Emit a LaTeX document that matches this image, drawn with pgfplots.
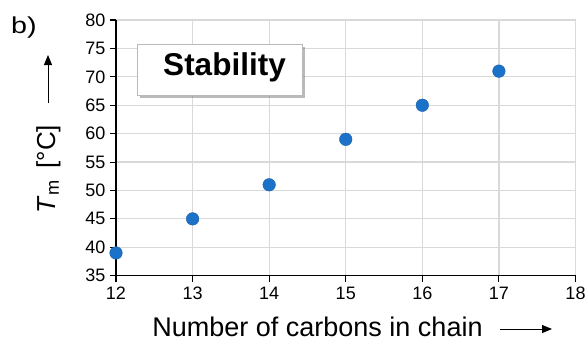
\documentclass[border=0pt]{standalone}
\usepackage{pgfplots}
\pgfplotsset{compat=1.18}
\usepackage{fontspec}
\setmainfont{Liberation Sans}
\usetikzlibrary{shadows,arrows.meta}
\definecolor{markblue}{RGB}{28,114,200}
\definecolor{gridgray}{RGB}{217,217,217}
\begin{document}
\begin{tikzpicture}[x=1bp,y=1bp]
\path[use as bounding box] (0,0) rectangle (588,343);
\begin{axis}[
  at={(116bp,67.3bp)}, anchor=south west,
  scale only axis, width=459.5bp, height=255.7bp,
  xmin=12, xmax=18, ymin=35, ymax=80,
  xtick={12,...,18}, ytick={35,40,...,80},
  axis x line*=bottom, axis y line*=left,
  axis line style={black, line width=1.3pt, -},
  grid=major, major grid style={gridgray, line width=1.2pt},
  tick align=outside, major tick length=6bp,
  tick style={black, line width=1.1pt},
  /pgf/number format/assume math mode=true,
  ticklabel style={font=\fontsize{18bp}{20bp}\selectfont},
  yticklabel style={xshift=-1bp},
  xticklabel style={yshift=-2bp},
  clip=false,
]
\addplot[only marks, mark=*, mark size=6.3bp, mark options={fill=markblue, draw=markblue!85!black, line width=0.4pt}]
  coordinates {(12,39) (13,45) (14,51) (15,59) (16,65) (17,71)};
\end{axis}
% Stability box
\node[draw=gray!55, fill=white, line width=0.8pt, minimum width=165bp, minimum height=51bp,
  drop shadow={shadow xshift=2.5bp, shadow yshift=-3bp, opacity=0.45, fill=black!60}]
  at (219.5,273.5) {};
\node at (224.5,276) {\fontsize{31.5bp}{34bp}\selectfont\bfseries Stability};
% b)
\node[anchor=base west, inner sep=0pt, xscale=1.25] at (11,310) {\fontsize{23bp}{26bp}\selectfont b)};
% y label
\node[rotate=90, inner sep=0pt] at (48.5,174) {\fontsize{26bp}{28bp}\selectfont\textit{T}\textsubscript{m}\hspace{0.45em}[°C]};
\draw[line width=1pt, -{Triangle[length=10bp,width=8bp]}] (48,240) -- (48,288);
% x label
\node[anchor=base, inner sep=0pt] at (317.5,6.5) {\fontsize{27bp}{29bp}\selectfont Number of carbons in chain};
\draw[line width=1pt, -{Triangle[length=10bp,width=8bp]}] (500,14) -- (552,14);
\end{tikzpicture}
\end{document}
